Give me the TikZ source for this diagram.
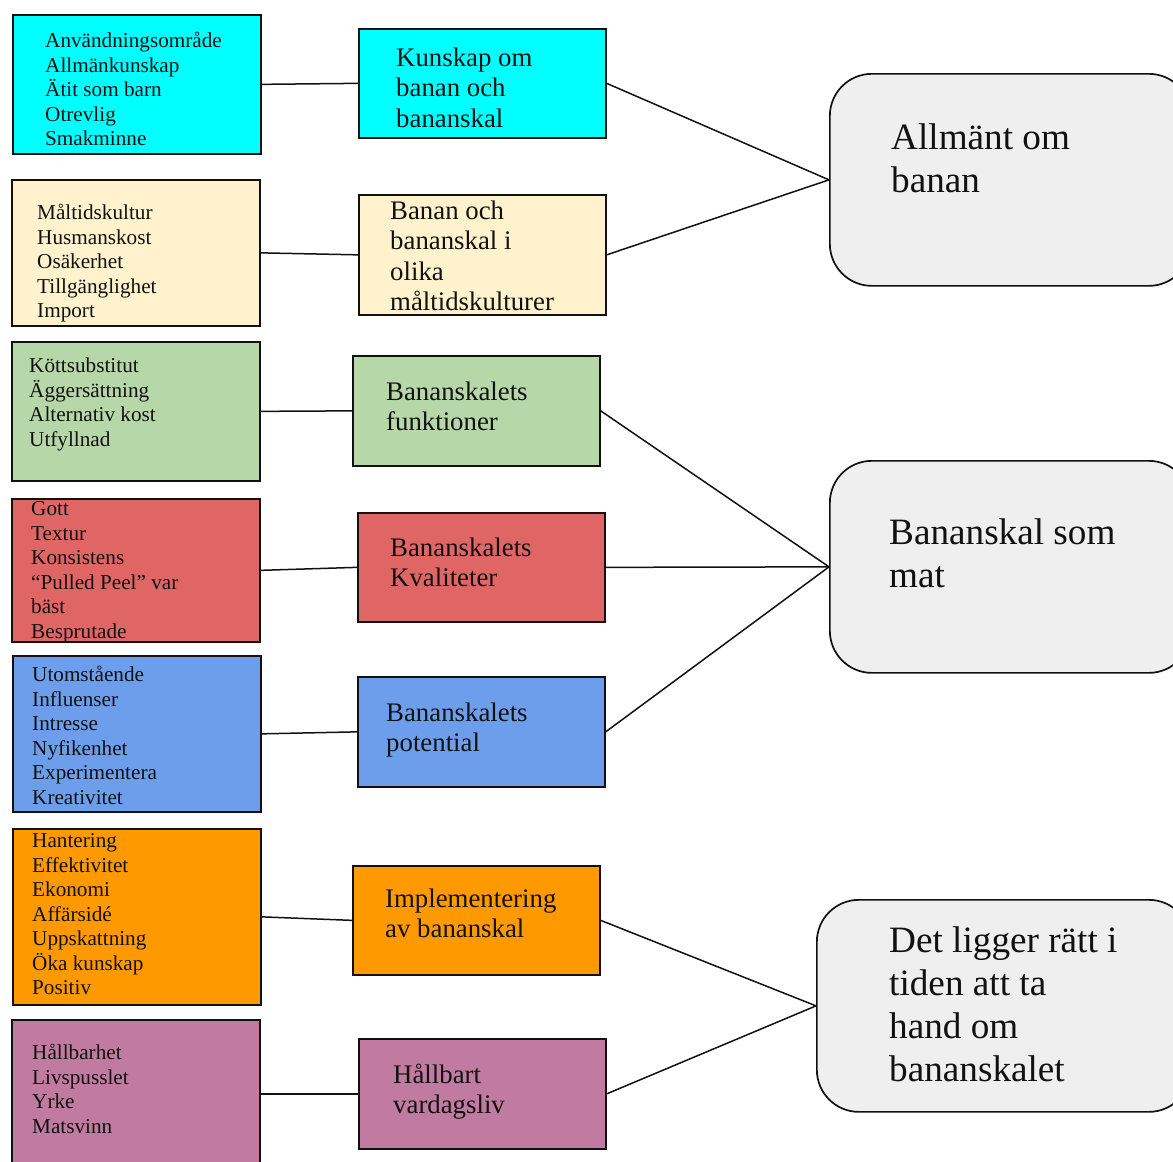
\documentclass[tikz,border=0pt]{standalone}
\usepackage{fontspec}
\setmainfont{Liberation Serif}
\definecolor{cCyan}{HTML}{00FFFF}
\definecolor{cCream}{HTML}{FFF2CC}
\definecolor{cGreen}{HTML}{B6D7A8}
\definecolor{cRed}{HTML}{E06666}
\definecolor{cBlue}{HTML}{6D9EEB}
\definecolor{cOrange}{HTML}{FF9900}
\definecolor{cPurple}{HTML}{C27BA0}
\definecolor{cGrey}{HTML}{EFEFEF}
\definecolor{cInk}{HTML}{111111}
\newcommand\lfnt{\fontsize{21.2}{24.5}\selectfont}
\newcommand\mfnt{\fontsize{26.8}{30.5}\selectfont}
\newcommand\rfnt{\fontsize{37.2}{43}\selectfont}
\newcommand\lines[1]{\begin{tabular}[t]{@{}l@{}}#1\end{tabular}}
\begin{document}
\begin{tikzpicture}[x=1pt,y=-1pt,
  box/.style={draw=cInk, line width=1.7pt, inner sep=0pt, anchor=north west, rectangle},
  bigbox/.style={draw=cInk, line width=1.7pt, inner sep=0pt, anchor=north west, rectangle, rounded corners=42pt, fill=cGrey, minimum height=212pt},
  ltext/.style={anchor=base west, inner sep=0pt, text=cInk, font=\lfnt},
  mtext/.style={anchor=base west, inner sep=0pt, text=cInk, font=\mfnt},
  rtext/.style={anchor=base west, inner sep=0pt, text=cInk, font=\rfnt},
  link/.style={draw=cInk, line width=1.5pt}]
\useasboundingbox (0,0) rectangle (1173,1162);
\clip (0,0) rectangle (1173,1162);
\fill[white] (0,0) rectangle (1173,1162);

% left boxes
\node[box, fill=cCyan,   minimum width=248pt, minimum height=139pt] (L1) at (12,14) {};
\node[box, fill=cCream,  minimum width=248pt, minimum height=146pt] (L2) at (11,179) {};
\node[box, fill=cGreen,  minimum width=248pt, minimum height=139pt] (L3) at (11,341) {};
\node[box, fill=cRed,    minimum width=248pt, minimum height=143pt] (L4) at (11,498) {};
\node[box, fill=cBlue,   minimum width=248pt, minimum height=156pt] (L5) at (12,655) {};
\node[box, fill=cOrange, minimum width=248pt, minimum height=176pt] (L6) at (12,828) {};
\node[box, fill=cPurple, minimum width=248pt, minimum height=148pt] (L7) at (11,1019) {};

% middle boxes
\node[box, fill=cCyan,   minimum width=247pt, minimum height=109pt] (M1) at (358,28) {};
\node[box, fill=cCream,  minimum width=247pt, minimum height=120pt] (M2) at (358,194) {};
\node[box, fill=cGreen,  minimum width=247pt, minimum height=110pt] (M3) at (352,355) {};
\node[box, fill=cRed,    minimum width=247pt, minimum height=109pt] (M4) at (357,512) {};
\node[box, fill=cBlue,   minimum width=247pt, minimum height=110pt] (M5) at (357,676) {};
\node[box, fill=cOrange, minimum width=247pt, minimum height=109pt] (M6) at (352,865) {};
\node[box, fill=cPurple, minimum width=247pt, minimum height=110pt] (M7) at (358,1038) {};

% right boxes
\node[bigbox, minimum width=361pt] (R1) at (829,73) {};
\node[bigbox, minimum width=361pt] (R2) at (829,460) {};
\node[bigbox, minimum width=374pt] (R3) at (816,899) {};

% connectors
\draw[link] (L1.east) -- (M1.west);
\draw[link] (L2.east) -- (M2.west);
\draw[link] (L3.east) -- (M3.west);
\draw[link] (L4.east) -- (M4.west);
\draw[link] (L5.east) -- (M5.west);
\draw[link] (L6.east) -- (M6.west);
\draw[link] (L7.east) -- (M7.west);
\draw[link] (M1.east) -- (R1.west);
\draw[link] (M2.east) -- (R1.west);
\draw[link] (M3.east) -- (R2.west);
\draw[link] (M4.east) -- (R2.west);
\draw[link] (M5.east) -- (R2.west);
\draw[link] (M6.east) -- (R3.west);
\draw[link] (M7.east) -- (R3.west);

% left texts
\node[ltext] (tL1) at (45,47.5) {\lines{Användningsområde\\Allmänkunskap\\Ätit som barn\\Otrevlig\\Smakminne}};
\node[ltext] (tL2) at (37,219.5) {\lines{Måltidskultur\\Husmanskost\\Osäkerhet\\Tillgänglighet\\Import}};
\node[ltext] (tL3) at (29,372.5) {\lines{Köttsubstitut\\Äggersättning\\Alternativ kost\\Utfyllnad}};
\node[ltext] (tL4) at (31,515.5) {\lines{Gott\\Textur\\Konsistens\\“Pulled Peel” var\\bäst\\Besprutade}};
\node[ltext] (tL5) at (32,681.5) {\lines{Utomstående\\Influenser\\Intresse\\Nyfikenhet\\Experimentera\\Kreativitet}};
\node[ltext] (tL6) at (32,847.5) {\lines{Hantering\\Effektivitet\\Ekonomi\\Affärsidé\\Uppskattning\\Öka kunskap\\Positiv}};
\node[ltext] (tL7) at (32,1059.5) {\lines{Hållbarhet\\Livspusslet\\Yrke\\Matsvinn}};

% middle texts
\node[mtext] (tM1) at (396,66) {\lines{Kunskap om\\banan och\\bananskal}};
\node[mtext] (tM2) at (390,219) {\lines{Banan och\\bananskal i\\olika\\måltidskulturer}};
\node[mtext] (tM3) at (386,400) {\lines{Bananskalets\\funktioner}};
\node[mtext] (tM4) at (390,556) {\lines{Bananskalets\\Kvaliteter}};
\node[mtext] (tM5) at (386,721) {\lines{Bananskalets\\potential}};
\node[mtext] (tM6) at (385,907) {\lines{Implementering\\av bananskal}};
\node[mtext] (tM7) at (393,1083) {\lines{Hållbart\\vardagsliv}};

% right texts
\node[rtext] (tR1) at (891,149.5) {\lines{Allmänt om\\banan}};
\node[rtext] (tR2) at (889,544.5) {\lines{Bananskal som\\mat}};
\node[rtext] (tR3) at (889,952.5) {\lines{Det ligger rätt i\\tiden att ta\\hand om\\bananskalet}};
\end{tikzpicture}
\end{document}
